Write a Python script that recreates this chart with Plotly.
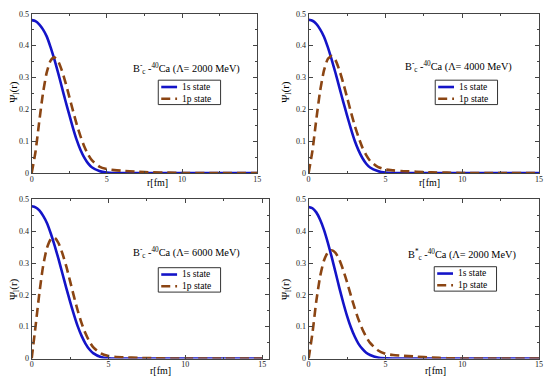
import plotly.graph_objects as go

# radial grid (fm)
r = [0, 0.25, 0.5, 0.75, 1.0, 1.25, 1.5, 1.75, 2.0, 2.25, 2.5, 2.75, 3.0, 3.25,
     3.5, 3.75, 4.0, 4.5, 5.0, 5.5, 6.0, 7.0, 8.0, 9.0, 10.0, 12.0, 15.0]

# Panel 1: B_c^- - 40Ca, Lambda = 2000 MeV
s1_a = [0.480, 0.477, 0.467, 0.451, 0.429, 0.396, 0.358, 0.316, 0.271, 0.226, 0.183, 0.141,
        0.103, 0.072, 0.048, 0.030, 0.018, 0.006, 0.001, 0, 0, 0, 0, 0, 0, 0, 0]
p1_a = [0, 0.065, 0.160, 0.250, 0.315, 0.352, 0.363, 0.352, 0.323, 0.284, 0.240, 0.195,
        0.152, 0.115, 0.083, 0.058, 0.040, 0.020, 0.012, 0.009, 0.007, 0.004, 0.002, 0.001, 0, 0, 0]

# Panel 2: B_c^- - 40Ca, Lambda = 4000 MeV
s1_b = [0.481, 0.478, 0.468, 0.451, 0.428, 0.395, 0.356, 0.314, 0.269, 0.224, 0.181, 0.139,
        0.101, 0.071, 0.047, 0.029, 0.017, 0.006, 0.001, 0, 0, 0, 0, 0, 0, 0, 0]
p1_b = [0, 0.070, 0.168, 0.258, 0.322, 0.358, 0.367, 0.354, 0.323, 0.283, 0.238, 0.192,
        0.149, 0.112, 0.080, 0.056, 0.038, 0.019, 0.011, 0.008, 0.006, 0.004, 0.002, 0.001, 0, 0, 0]

# Panel 3: B_c^- - 40Ca, Lambda = 6000 MeV
s1_c = [0.478, 0.475, 0.465, 0.448, 0.425, 0.392, 0.354, 0.312, 0.267, 0.222, 0.179, 0.138,
        0.101, 0.071, 0.047, 0.029, 0.017, 0.005, 0.001, 0, 0, 0, 0, 0, 0, 0, 0]
p1_c = [0, 0.100, 0.205, 0.292, 0.348, 0.375, 0.379, 0.362, 0.330, 0.290, 0.243, 0.195,
        0.150, 0.111, 0.079, 0.054, 0.036, 0.016, 0.008, 0.005, 0.004, 0.002, 0.001, 0, 0, 0, 0]

# Panel 4: B_c^*+ - 40Ca, Lambda = 2000 MeV
s1_d = [0.476, 0.472, 0.459, 0.436, 0.404, 0.364, 0.319, 0.271, 0.222, 0.176, 0.134, 0.098,
        0.069, 0.046, 0.030, 0.018, 0.011, 0.003, 0.0005, 0, 0, 0, 0, 0, 0, 0, 0]
p1_d = [0, 0.080, 0.180, 0.258, 0.308, 0.333, 0.340, 0.332, 0.310, 0.278, 0.240, 0.198,
        0.158, 0.122, 0.092, 0.068, 0.049, 0.026, 0.015, 0.011, 0.009, 0.006, 0.003, 0.001, 0, 0, 0]

panel_labels = [
    "B<sup>-</sup><sub>c</sub> -<sup>40</sup>Ca (\u039b= 2000 MeV)",
    "B<sup>-</sup><sub>c</sub> -<sup>40</sup>Ca (\u039b= 4000 MeV)",
    "B<sup>-</sup><sub>c</sub> -<sup>40</sup>Ca (\u039b= 6000 MeV)",
    "B<sup>*</sup><sub>c</sub> -<sup>40</sup>Ca (\u039b= 2000 MeV)",
]
series_names = ["1s state", "1p state"]
x_ticks = [0, 5, 10, 15]
y_ticks = [0, 0.1, 0.2, 0.3, 0.4, 0.5]

W, H = 550, 385
BLUE = "#1414c8"
BROWN = "#8b4513"
FONT = "Liberation Serif"
DASH = "9px,5px"

# panel pixel boxes: (left, right, top, bottom)
boxes = [(30, 258, 10, 173), (310, 543, 10, 173), (30, 270, 200, 363), (310, 543, 200, 363)]
xmax = [15, 15, 15.45, 15]
data = [(s1_a, p1_a), (s1_b, p1_b), (s1_c, p1_c), (s1_d, p1_d)]

fig = go.Figure()
layout = dict(width=W, height=H, margin=dict(l=0, r=0, t=0, b=0), showlegend=False,
              paper_bgcolor="white", plot_bgcolor="white", annotations=[], shapes=[],
              font=dict(family=FONT, color="black"))

legend_box = [(158, 78), (438, 78), (158, 270), (437, 269)]
label_left = [(130, 67), (405, 65), (130, 255), (408, 257)]
ytitle_pos = [(12, 90), (287, 90), (12, 292), (287, 292)]
xtitle_pos = [(157, 183), (432, 183), (160, 375), (438, 375)]


def px(xp, yp):
    return xp / W, 1 - yp / H


def ann(xp, yp, text, size, **kw):
    x, y = px(xp, yp)
    d = dict(x=x, y=y, xref="paper", yref="paper", text=text, showarrow=False,
             xanchor="center", yanchor="middle",
             font=dict(family=FONT, size=size, color="black"))
    d.update(kw)
    layout["annotations"].append(d)


for i in range(4):
    n = i + 1
    xa = "x" if n == 1 else f"x{n}"
    ya = "y" if n == 1 else f"y{n}"
    s1, p1 = data[i]
    fig.add_trace(go.Scatter(x=r, y=s1, mode="lines", name=series_names[0], xaxis=xa, yaxis=ya,
                             line=dict(color=BLUE, width=2.6, shape="spline", smoothing=0.6)))
    fig.add_trace(go.Scatter(x=r, y=p1, mode="lines", name=series_names[1], xaxis=xa, yaxis=ya,
                             line=dict(color=BROWN, width=2.6, dash=DASH,
                                       shape="spline", smoothing=0.6)))
    L, R, T, B = boxes[i]
    axcommon = dict(showgrid=False, zeroline=False, showline=True, linecolor="#444", linewidth=1,
                    mirror="ticks", ticks="inside", ticklen=4, tickcolor="#444",
                    tickfont=dict(family=FONT, size=8, color="#222"))
    layout["xaxis" if n == 1 else f"xaxis{n}"] = dict(
        domain=[L / W, R / W], range=[0, xmax[i]], tickvals=x_ticks, anchor=ya,
        ticklabelstandoff=-2,
        minor=dict(ticks="inside", ticklen=2, tickcolor="#444", dtick=2.5, tick0=0), **axcommon)
    layout["yaxis" if n == 1 else f"yaxis{n}"] = dict(
        domain=[1 - B / H, 1 - T / H], range=[0, 0.5], tickvals=y_ticks, anchor=xa,
        minor=dict(ticks="inside", ticklen=2, tickcolor="#444", dtick=0.05, tick0=0), **axcommon)

    # legend box (drawn as a framed key)
    bx, by = legend_box[i]
    x0, y0 = px(bx, by)
    x1, y1 = px(bx + 63, by + 25)
    layout["shapes"].append(dict(type="rect", xref="paper", yref="paper", x0=x0, x1=x1, y0=y1, y1=y0,
                                 line=dict(color="#333", width=1), fillcolor="white", layer="above"))
    for k, (col, dash) in enumerate([(BLUE, "solid"), (BROWN, DASH)]):
        yy = by + 7 + k * 12
        sx0, sy = px(bx + 3, yy)
        sx1, _ = px(bx + 19, yy)
        layout["shapes"].append(dict(type="line", xref="paper", yref="paper", x0=sx0, x1=sx1,
                                     y0=sy, y1=sy, layer="above",
                                     line=dict(color=col, width=2.6, dash=dash)))
    ann(bx + 22, by + 13, "<br>".join(series_names), 9.5, xanchor="left", align="left")

    lx, ly = label_left[i]
    ann(lx, ly, panel_labels[i], 10.3, xanchor="left")
    tx, ty = ytitle_pos[i]
    ann(tx, ty, "\u03a8<sub>l</sub>(r)", 11, textangle=-90)
    tx, ty = xtitle_pos[i]
    ann(tx, ty, "r[fm]", 10)

fig.update_layout(**layout)
fig.write_html("out.html", config={"displayModeBar": False},
               post_script="document.body.style.margin='0';document.body.style.overflow='hidden';")
